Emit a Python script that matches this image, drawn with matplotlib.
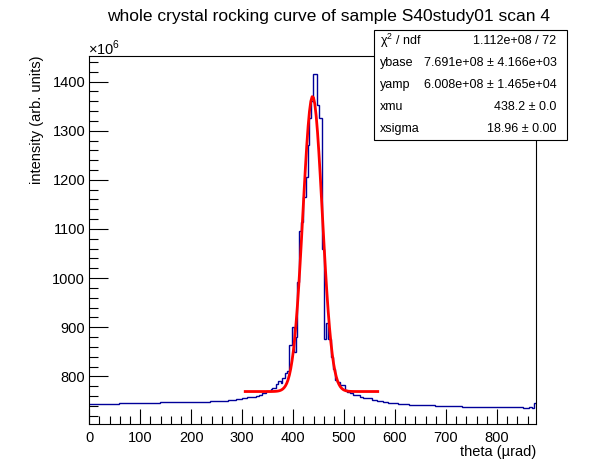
import numpy as np
import matplotlib.pyplot as plt
from matplotlib.ticker import MultipleLocator

plt.rcParams['font.family'] = ['Liberation Sans', 'DejaVu Sans']
plt.rcParams['mathtext.fontset'] = 'custom'
plt.rcParams['mathtext.rm'] = 'Liberation Sans'

# bin edges (theta, urad) and contents (x 1e6)
edges = [0, 58.3, 138.7, 236.9, 272.8, 287.2, 300.3, 310, 326.5, 333, 339.5,
         346, 356, 359, 366, 371, 375.6, 378.7, 383.4, 388.5, 392.5, 397.1,
         401.7, 405.0, 408.2, 411.8, 415.4, 420.0, 424.6, 428.5, 432, 436,
         439.6, 447.4, 451.3, 456, 460.6, 464.5, 469, 474, 479, 482.2, 485.4,
         492, 501.8, 505, 511.6, 518, 531.2, 537.7, 554, 565, 577, 586.8,
         606.4, 628, 678.4, 730.8, 851.7, 863.4, 868, 872, 876.6]
counts = [743.1, 745.7, 748.4, 749.8, 751.8, 753.9, 755.9, 758, 760, 762,
          765.5, 770.2, 773.6, 775.6, 783.8, 790.5, 787, 797, 806, 811, 864,
          901, 850, 881, 993, 1095, 1115, 1165, 1205, 1270, 1325, 1360,
          1415, 1352, 1325, 1060, 877, 908, 875, 840, 815, 792.6, 789, 782,
          772, 768.7, 765.4, 762, 758.6, 755.3, 751.8, 749.8, 747.8, 745.7,
          743.7, 741.7, 739.6, 737, 735, 737, 735, 745]

# fit results from the stats box (y in units of 1e6)
ybase = 769.1
yamp = 600.8
xmu = 438.2
xsigma = 18.96
fit_lo, fit_hi = 306, 566

fig = plt.figure(figsize=(5.96, 4.72), dpi=100)
ax = fig.add_axes([89.3/596, 48/472, (536-89.3)/596, (424-56)/472])

ax.stairs(counts, edges, color='#000099', linewidth=1.0, baseline=None)

xf = np.linspace(fit_lo, fit_hi, 100)
yf = ybase + yamp*np.exp(-0.5*((xf - xmu)/xsigma)**2)
ax.plot(xf, yf, color='red', linewidth=2.0)

ax.set_xlim(0, 876.6)
ax.set_ylim(703, 1452)
ax.xaxis.set_major_locator(MultipleLocator(100))
ax.xaxis.set_minor_locator(MultipleLocator(20))
ax.yaxis.set_major_locator(MultipleLocator(100))
ax.yaxis.set_minor_locator(MultipleLocator(20))
ax.tick_params(which='both', direction='in', top=False, right=False, labelsize=10.5, width=0.8)
ax.tick_params(axis='x', which='major', length=11, pad=5)
ax.tick_params(axis='x', which='minor', length=5.5)
ax.tick_params(axis='y', which='major', length=13.4, pad=3)
ax.tick_params(axis='y', which='minor', length=6.7)
for s in ax.spines.values():
    s.set_linewidth(0.8)

fig.text(329/596, 1 - 16/472, 'whole crystal rocking curve of sample S40study01 scan 4',
         ha='center', va='center', fontsize=12.5)
fig.text(536/596, 1 - 452/472, 'theta (µrad)', ha='right', va='center', fontsize=10.5)
fig.text(37/596, 1 - 56/472, 'intensity (arb. units)', ha='center', va='top',
         rotation=90, fontsize=10.5)
fig.text(88/596, 1 - 48/472, '×10$^{6}$', ha='left', va='center', fontsize=10.5)

# stats box
bx0, bx1 = 374/596, 566.7/596
by0, by1 = 1 - 140/472, 1 - 30/472
fig.patches.append(plt.Rectangle((bx0, by0), bx1 - bx0, by1 - by0, transform=fig.transFigure,
                                 facecolor='white', edgecolor='black', linewidth=0.8, zorder=5))
names = ['χ$^{2}$ / ndf', 'ybase', 'yamp', 'xmu', 'xsigma']
vals = ['1.112e+08 / 72', '7.691e+08 ± 4.166e+03', '6.008e+08 ± 1.465e+04',
        '438.2 ± 0.0', '18.96 ± 0.00']
for i, (n, v) in enumerate(zip(names, vals)):
    yy = 1 - (41 + 22*i)/472
    fig.text(380/596, yy, n, ha='left', va='center', fontsize=9, zorder=6)
    fig.text(556.5/596, yy, v, ha='right', va='center', fontsize=9, zorder=6)

fig.savefig('out.png', dpi=100)
